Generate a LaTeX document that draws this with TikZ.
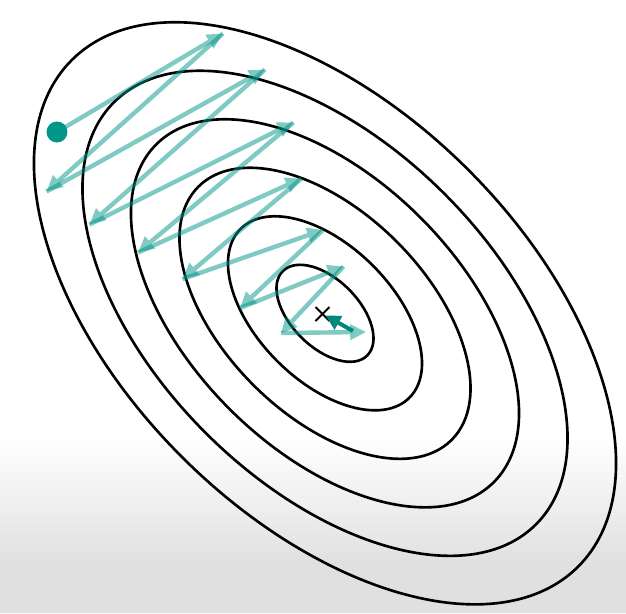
\documentclass[tikz,border=0pt]{standalone}
\usetikzlibrary{arrows.meta,calc}
\definecolor{tealc}{HTML}{009688}
\definecolor{tealdark}{HTML}{00897B}
\begin{document}
\begin{tikzpicture}[x=0.02cm,y=-0.02cm,
  contour/.style={draw=black, line width=1.5pt},
  zig/.style={draw=tealc, line width=2.5pt, -{Triangle[length=9pt,width=8.5pt]}},
  finalarrow/.style={draw=tealdark, line width=2.3pt, -{Triangle[length=8.5pt,width=8.5pt]}},
  dot/.style={circle, fill=tealc, inner sep=0pt, minimum size=0.42cm}]
\useasboundingbox (0,0) rectangle (626,613);
% background
\fill[white] (0,0) rectangle (626,613);
\shade[top color=white, bottom color=black!12] (0,437) rectangle (626,563);
\fill[black!12] (0,563) rectangle (626,613);
% contours
\begin{scope}[shift={(325,313.3)}, rotate=-45]
  \foreach \k in {1,...,6} {
    \draw[contour] (0,0) ellipse [x radius={1.194cm*\k}, y radius={0.676cm*\k}];
  }
\end{scope}
% zig-zag points
\coordinate (p1) at (223,33.5);
\coordinate (p2) at (46.5,191.5);
\coordinate (p3) at (265,69.5);
\coordinate (p4) at (89.5,224.5);
\coordinate (p5) at (293.5,122.5);
\coordinate (p6) at (138,252.5);
\coordinate (p7) at (301.5,178.5);
\coordinate (p8) at (182.5,279);
\coordinate (p9) at (323,230);
\coordinate (p10) at (240,308);
\coordinate (p11) at (343.5,266.5);
\coordinate (p12) at (281,333);
\coordinate (p13) at (366,332);
\coordinate (p0) at (57,132);
\foreach \a/\b in {p0/p1,p1/p2,p2/p3,p3/p4,p4/p5,p5/p6,p6/p7,p7/p8,p8/p9,p9/p10,p10/p11,p11/p12,p12/p13} {
  \begin{scope}[transparency group, opacity=0.5]
    \draw[zig] (\a) -- (\b);
  \end{scope}
}
% start dot
\node[dot] (start) at (p0) {};
% minimum mark
\coordinate (xm) at (322.5,314);
\draw[line width=1.1pt] ($(xm)+(-7,-7)$) -- ($(xm)+(7,7)$);
\draw[line width=1.1pt] ($(xm)+(-7,7)$) -- ($(xm)+(7,-7)$);
% final step
\coordinate (dtail) at (353,331);
\coordinate (dtip) at (325.5,315.5);
\draw[finalarrow] (dtail) -- (dtip);
\end{tikzpicture}
\end{document}
